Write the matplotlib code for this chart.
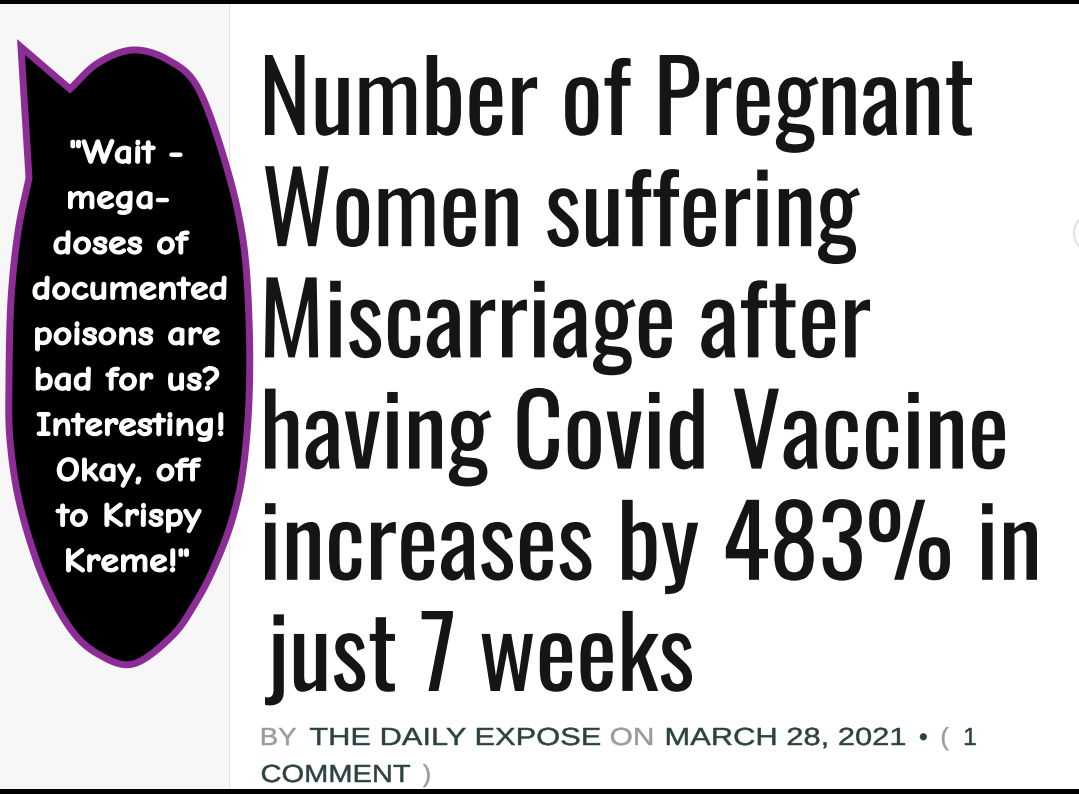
import numpy as np
import matplotlib
matplotlib.use("Agg")
import matplotlib.pyplot as plt
from matplotlib import font_manager as fm
from matplotlib.patches import Rectangle, Polygon, Circle
from matplotlib.patheffects import AbstractPathEffect
from matplotlib.transforms import Affine2D
from matplotlib.textpath import TextPath

# ---------------- content ----------------
headline_lines = [
    "Number of Pregnant",
    "Women suffering",
    "Miscarriage after",
    "having Covid Vaccine",
    "increases by 483% in",
    "just 7 weeks",
]
bubble_lines = [
    '"Wait -',
    "mega-",
    "doses of",
    "documented",
    "poisons are",
    "bad for us?",
    "Interesting!",
    "Okay, off",
    "to Krispy",
    'Kreme!"',
]
byline_texts = ["BY", "THE DAILY EXPOSE", "ON", "MARCH 28, 2021", "\u2022", "(", "1",
                "COMMENT", ")"]

# ---------------- layout (pixels, image coords) ----------------
W, H = 1079, 794
head_left = 265
head_right = [972, 860, 870, 1005, 1037, 692]
head_base0, head_step, head_cap = 135, 111.2, 80

bub_left = [65, 80, 48, 37, 37, 37, 35, 50, 57, 70]
bub_right = [188, 157, 195, 222, 218, 218, 225, 208, 200, 185]
bub_base0, bub_step, bub_cap = 163, 45.4, 23

by_left = [262, 310, 611, 667, 920, 942, 965, 262, 423]
by_right = [296, 600, 652, 905, None, None, None, 410, None]
by_base = [745, 745, 745, 745, 745, 745, 745, 782, 782]
by_dark = [False, True, False, True, True, False, True, True, False]
by_cap = 17

DARK = "#2c4241"
GRAY = "#9b9b9b"


class HScale(AbstractPathEffect):
    """Horizontally scale the glyph outlines about x0 (display px); optional outline."""

    def __init__(self, sx, x0, stroke=0.0):
        super().__init__()
        self.sx = sx
        self.x0 = x0
        self.stroke = stroke

    def draw_path(self, renderer, gc, tpath, affine, rgbFace=None):
        t = affine + Affine2D().translate(-self.x0, 0).scale(self.sx, 1.0).translate(self.x0, 0)
        gc0 = renderer.new_gc()
        gc0.copy_properties(gc)
        if self.stroke > 0 and rgbFace is not None:
            gc0.set_linewidth(self.stroke)
            gc0.set_foreground(rgbFace)
            gc0.set_joinstyle("round")
        renderer.draw_path(gc0, tpath, t, rgbFace)
        gc0.restore()


names = {f.name for f in fm.fontManager.ttflist}


def pick(cands):
    for c in cands:
        if c in names:
            return c
    return "DejaVu Sans"


head_prop = fm.FontProperties(family=pick(["Oswald", "Roboto Condensed", "Liberation Sans Narrow", "Roboto", "DejaVu Sans"]), weight="bold")
bub_prop = fm.FontProperties(family=pick(["Comic Neue", "DejaVu Sans"]), weight="bold")
by_prop = fm.FontProperties(family=pick(["Liberation Sans", "DejaVu Sans"]), weight="normal")


def cap_ratio(prop):
    e = TextPath((0, 0), "H", size=100, prop=prop).get_extents()
    return e.y1 / 100.0


def ink(s, size_px, prop):
    return TextPath((0, 0), s, size=size_px, prop=prop).get_extents()


fig = plt.figure(figsize=(W / 100, H / 100), dpi=100)
fig.patch.set_facecolor("white")
ax = fig.add_axes([0, 0, 1, 1])
ax.set_xlim(0, W)
ax.set_ylim(H, 0)
ax.axis("off")


def place(s, left, baseline, size_px, prop, color, sx=1.0, stroke=0.0, zorder=6):
    ext = ink(s, size_px, prop)
    xa = left - ext.x0 * sx
    t = ax.text(xa, baseline, s, fontproperties=prop, fontsize=size_px * 0.72,
                color=color, ha="left", va="baseline", zorder=zorder)
    t.set_path_effects([HScale(sx, xa, stroke)])
    return t


# backgrounds
ax.add_patch(Rectangle((0, 0), 228, H, facecolor="#f7f7f7", edgecolor="none", zorder=0))
ax.plot([228.5, 228.5], [0, H], color="#e1e1e1", lw=0.9, zorder=1)
ax.add_patch(Circle((1094, 233), 20, fill=False, ec="#e2e2e2", lw=1.4, zorder=1))
ax.add_patch(Rectangle((0, 0), W, 4, facecolor="black", edgecolor="none", zorder=10))
ax.add_patch(Rectangle((0, 789), W, 5, facecolor="black", edgecolor="none", zorder=10))

# speech bubble outline (centre line of the purple stroke)
tip = (21, 47)
body = np.array([
    (70, 89), (98, 63), (133, 50), (168, 60), (198, 88), (226, 165), (243, 240),
    (249, 320), (249, 400), (243, 470), (232, 520), (215, 565), (196, 602),
    (172, 636), (133, 664), (98, 654), (70, 628), (42, 575), (20, 505),
    (10, 440), (9, 380), (11, 300), (18, 232), (29, 178),
], dtype=float)


def catmull(P, n=24):
    ext = np.vstack([2 * P[0] - P[1], P, 2 * P[-1] - P[-2]])
    out = []
    for i in range(1, len(ext) - 2):
        p0, p1, p2, p3 = ext[i - 1], ext[i], ext[i + 1], ext[i + 2]
        for t in np.linspace(0, 1, n, endpoint=False):
            t2, t3 = t * t, t * t * t
            out.append(0.5 * ((2 * p1) + (-p0 + p2) * t + (2 * p0 - 5 * p1 + 4 * p2 - p3) * t2
                              + (-p0 + 3 * p1 - 3 * p2 + p3) * t3))
    out.append(P[-1])
    return np.array(out)


outline = np.vstack([[tip], catmull(body)])
ax.add_patch(Polygon(outline, closed=True, facecolor="black", edgecolor="#8c2d96",
                     lw=5.0, joinstyle="miter", zorder=4))

# bubble text: one common horizontal scale, each line centred where it sits
bsize = bub_cap / cap_ratio(bub_prop)
widths = [ink(s, bsize, bub_prop).width for s in bubble_lines]
targets = [r - l for l, r in zip(bub_left, bub_right)]
bsx = sum(targets) / sum(widths)
for i, s in enumerate(bubble_lines):
    cx = 0.5 * (bub_left[i] + bub_right[i])
    place(s, cx - 0.5 * widths[i] * bsx, bub_base0 + bub_step * i, bsize, bub_prop, "white",
          bsx, stroke=0.9)

# headline
hsize = head_cap / cap_ratio(head_prop)
for i, s in enumerate(headline_lines):
    w = ink(s, hsize, head_prop).width
    place(s, head_left, head_base0 + head_step * i, hsize, head_prop, "#151515",
          (head_right[i] - head_left) / w)

# byline
ysize = by_cap / cap_ratio(by_prop)
for i, s in enumerate(byline_texts):
    sx = 1.0
    if by_right[i] is not None:
        sx = (by_right[i] - by_left[i]) / ink(s, ysize, by_prop).width
    place(s, by_left[i], by_base[i], ysize, by_prop, DARK if by_dark[i] else GRAY, sx,
          stroke=0.35)

fig.savefig("out.png", dpi=100, facecolor="white")
